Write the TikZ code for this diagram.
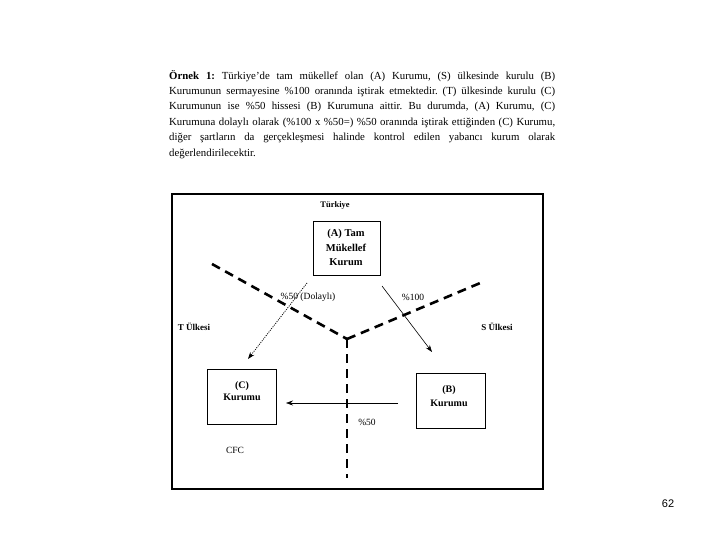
\documentclass[tikz,border=0pt]{standalone}
\usepackage{fontspec}
\setmainfont{Liberation Serif}
\newfontfamily\pagenumfont{Liberation Sans}
\usetikzlibrary{arrows.meta}
\frenchspacing
\tikzset{
  boxnode/.style={draw, line width=0.8pt, inner sep=0pt},
  boxtext/.style={font=\fontsize{10.5}{14.5}\selectfont\bfseries, align=center, inner sep=0pt},
  lbl/.style={font=\fontsize{9.5}{10}\selectfont, inner sep=0pt},
  lblb/.style={font=\fontsize{9}{10}\selectfont\bfseries, inner sep=0pt},
  thickdash/.style={line width=2.6pt, dash pattern=on 9pt off 6pt},
  arr/.style={line width=0.6pt, -{Stealth[length=7pt,width=5pt]}},
  dotarr/.style={line width=0.8pt, dash pattern=on 1pt off 1.2pt, -{Stealth[length=7pt,width=5pt]}}
}
\begin{document}
\begin{tikzpicture}[x=1pt,y=-1pt]
\useasboundingbox (0,0) rectangle (720,540);
\fill[white] (0,0) rectangle (720,540);

% paragraph
\node[anchor=north west, inner sep=0pt, text width=386pt, align=justify,
      font=\fontsize{10.8}{15.4}\selectfont] (para) at (169,70)
{\textbf{Örnek 1:} Türkiye’de tam mükellef olan (A) Kurumu, (S) ülkesinde kurulu (B)\linebreak
Kurumunun sermayesine \%100 oranında iştirak etmektedir. (T) ülkesinde kurulu (C)\linebreak
Kurumunun ise \%50 hissesi (B) Kurumuna aittir. Bu durumda, (A) Kurumu, (C)\linebreak
Kurumuna dolaylı olarak (\%100 x \%50=) \%50 oranında iştirak ettiğinden (C) Kurumu,\linebreak
diğer şartların da gerçekleşmesi halinde kontrol edilen yabancı kurum olarak\linebreak
değerlendirilecektir.};

% frame
\draw[line width=1.5pt] (172,194) rectangle (543,489);
\draw[line width=2.2pt] (172,489) -- (543,489) -- (543,194);

% boxes
\node[boxnode, minimum width=67pt, minimum height=54pt] (A) at (346.5,248) {};
\node[boxtext] (Atext) at (346,247.5) {(A) Tam\\Mükellef\\Kurum};
\node[boxnode, minimum width=69pt, minimum height=55pt] (C) at (241.5,396.5) {};
\node[boxtext, font=\fontsize{10}{12}\selectfont\bfseries] (Ctext) at (242,391) {(C)\\Kurumu};
\node[boxnode, minimum width=69pt, minimum height=55pt] (B) at (450.5,400.5) {};
\node[boxtext, font=\fontsize{10}{14}\selectfont\bfseries] (Btext) at (449,396) {(B)\\Kurumu};

% borders (dashed)
\coordinate (Lstart) at (212,264);
\coordinate (V) at (347,339);
\coordinate (Rend) at (485,281);
\coordinate (Vend) at (347,478);
\draw[thickdash] (Lstart) -- (V);
\draw[thickdash] (V) -- (Rend);
\draw[thickdash] (V) -- (Vend);

% arrows
\coordinate (d1) at (307,283);
\coordinate (d2) at (248,359);
\draw[dotarr] (d1) -- (d2);
\coordinate (s1) at (382,286);
\coordinate (s2) at (432,352);
\draw[arr] (s1) -- (s2);
\coordinate (h1) at (398,403);
\coordinate (h2) at (286,403);
\draw[arr] (h1) -- (h2);

% labels
\node[lblb, font=\fontsize{8.5}{10}\selectfont\bfseries] (tr) at (335,205) {Türkiye};
\node[lbl] (dol) at (308,297) {\%50 (Dolaylı)};
\node[lbl] (p100) at (413,297) {\%100};
\node[lblb] (tul) at (194,327) {T Ülkesi};
\node[lblb] (sul) at (497,327) {S Ülkesi};
\node[lbl] (p50) at (367,422) {\%50};
\node[lbl] (cfc) at (235,450) {CFC};

\node[inner sep=0pt, font=\pagenumfont\fontsize{11}{12}\selectfont] (pg) at (668,504) {62};
\end{tikzpicture}
\end{document}
